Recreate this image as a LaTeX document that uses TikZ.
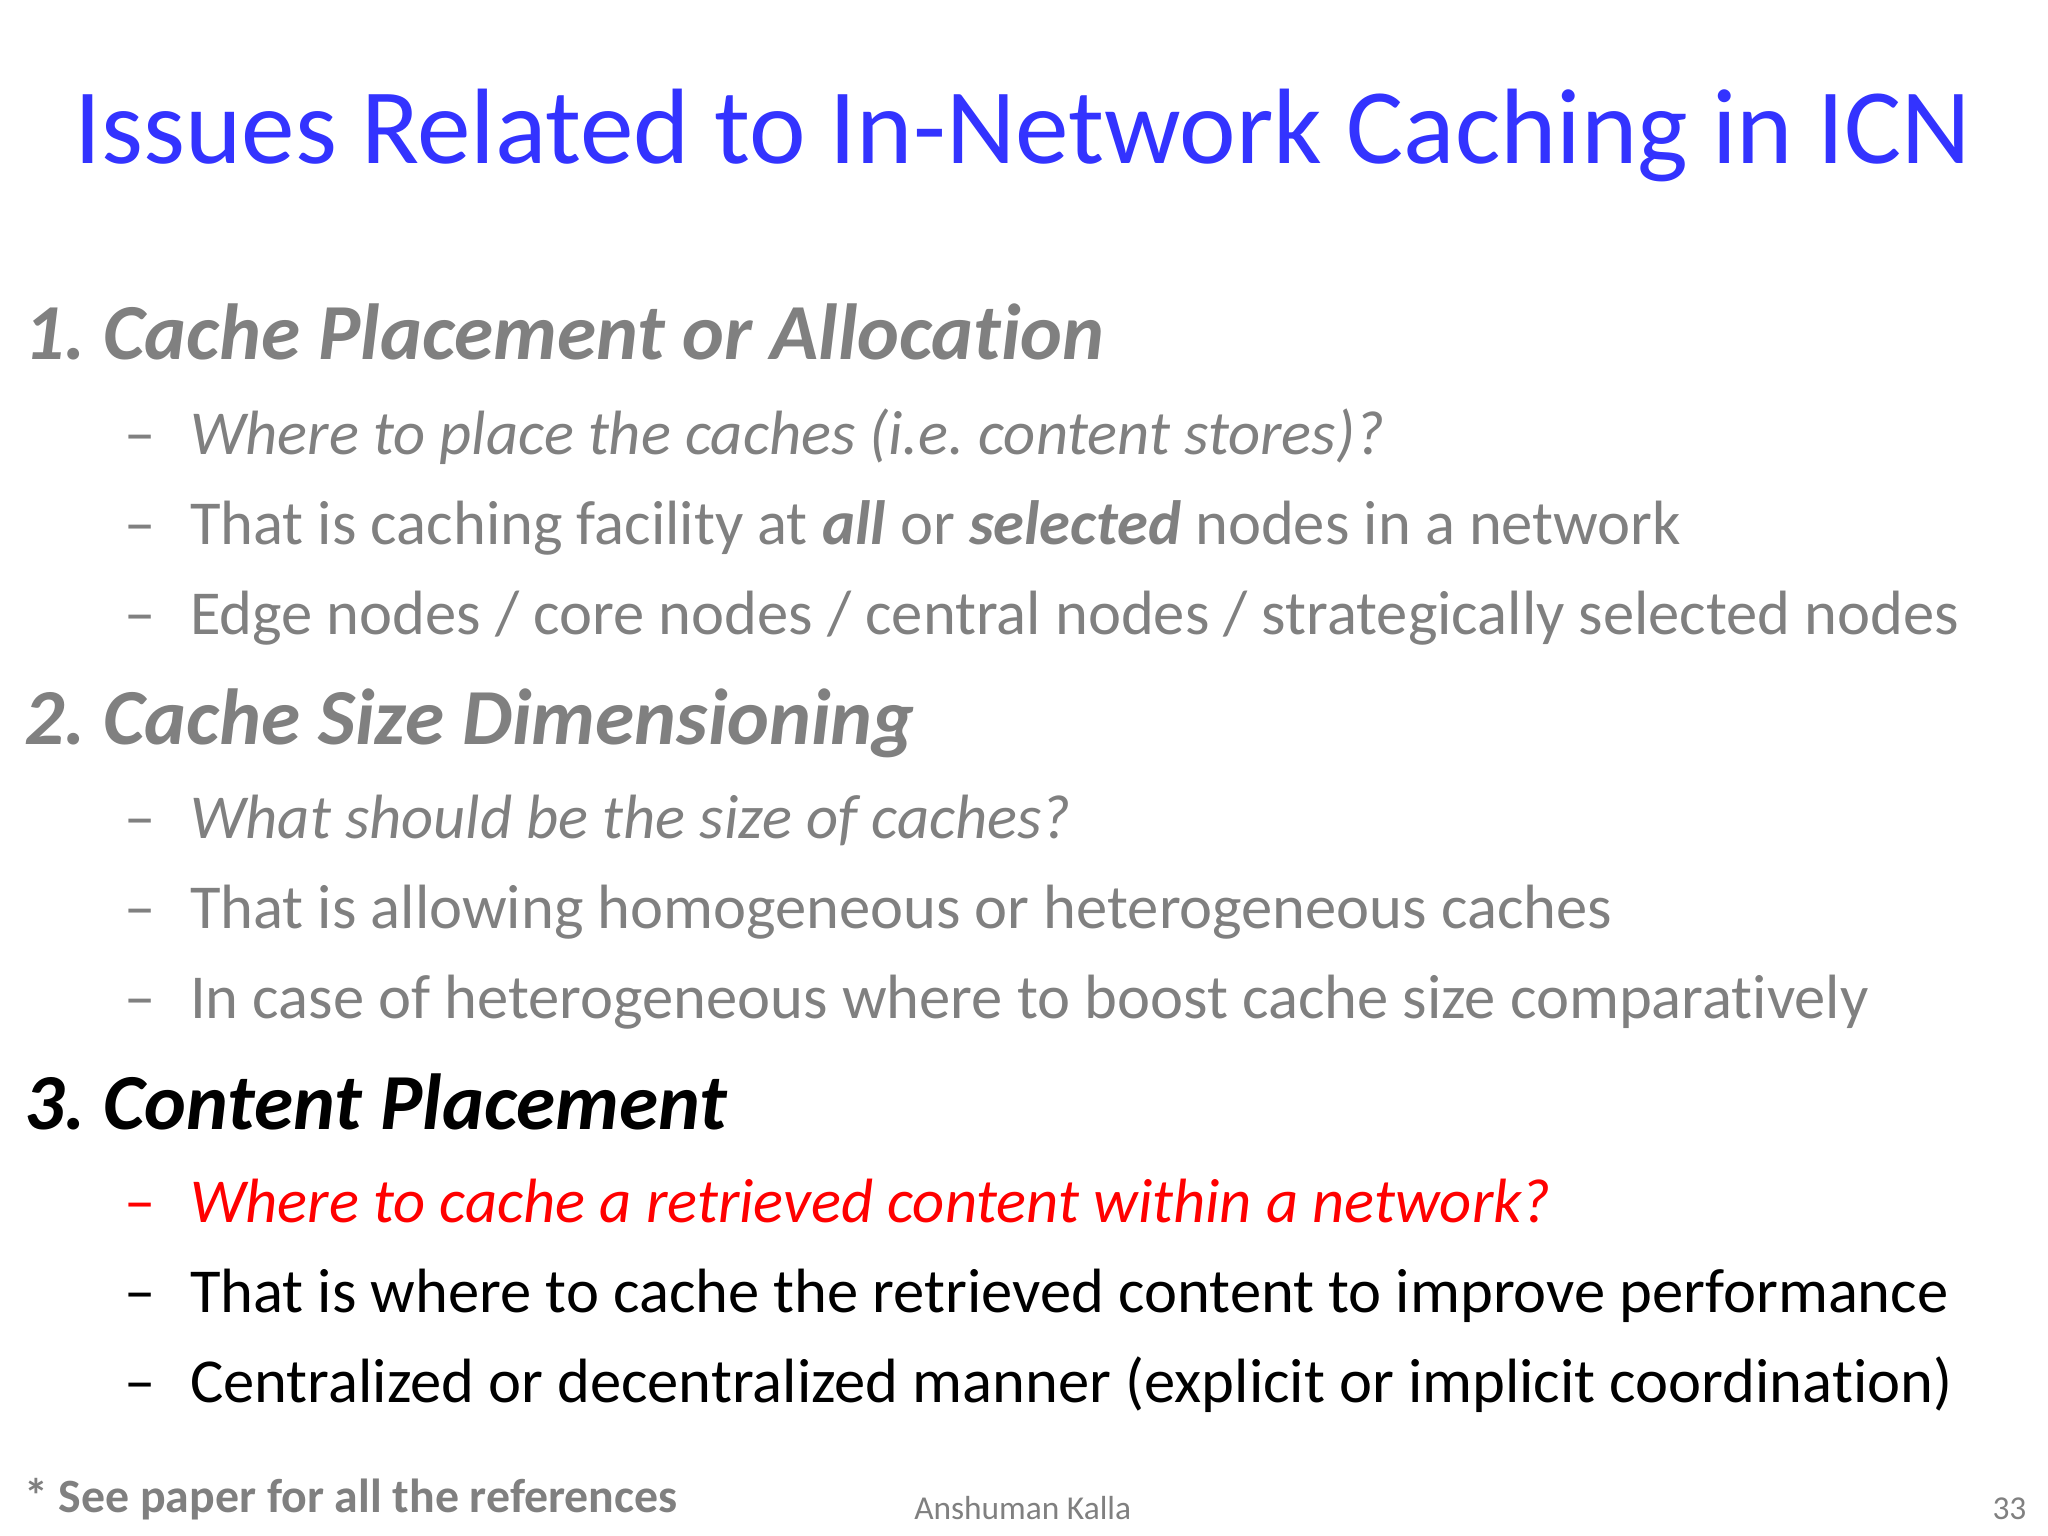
\documentclass[tikz,border=0pt]{standalone}
\usepackage{fontspec}
\setmainfont[Ligatures={NoCommon}]{Carlito}
\frenchspacing
\definecolor{ttl}{RGB}{51,51,255}
\definecolor{gr}{RGB}{128,128,128}
\begin{document}
\begin{tikzpicture}[x=0.01306cm,y=-0.01306cm,
  head/.style={anchor=base west,inner sep=0pt,font=\fontsize{22.6}{27}\selectfont\bfseries\itshape},
  item/.style={anchor=base west,inner sep=0pt,font=\fontsize{17.8}{21}\selectfont},
  dsh/.style={anchor=base west,inner sep=0pt,font=\fontsize{17.8}{21}\selectfont}]
\useasboundingbox[fill=white] (0,0) rectangle (1568,1176);
\node[anchor=base,inner sep=0pt,text=ttl,font=\fontsize{30.5}{36}\selectfont] (t) at (783,125) {Issues Related to In-Network Caching in ICN};
\node[head,text=gr] (h1) at (18,275) {1. Cache Placement or Allocation};
\node[dsh,text=gr] (d1) at (95,348) {–};
\node[item,text=gr,font=\fontsize{17.8}{21}\selectfont\itshape] (i1) at (145,348) {Where to place the caches (i.e. content stores)?};
\node[dsh,text=gr] (d2) at (95,417) {–};
\node[item,text=gr] (i2) at (145,417) {That is caching facility at \textbf{\textit{all}} or \textbf{\textit{selected}} nodes in a network};
\node[dsh,text=gr] (d3) at (95,486) {–};
\node[item,text=gr] (i3) at (145,486) {Edge nodes / core nodes / central nodes / strategically selected nodes};
\node[head,text=gr] (h2) at (18,570) {2. Cache Size Dimensioning};
\node[dsh,text=gr] (d4) at (95,642) {–};
\node[item,text=gr,font=\fontsize{17.8}{21}\selectfont\itshape] (i4) at (145,642) {What should be the size of caches?};
\node[dsh,text=gr] (d5) at (95,711) {–};
\node[item,text=gr] (i5) at (145,711) {That is allowing homogeneous or heterogeneous caches};
\node[dsh,text=gr] (d6) at (95,780) {–};
\node[item,text=gr] (i6) at (145,780) {In case of heterogeneous where to boost cache size comparatively};
\node[head,text=black] (h3) at (18,865) {3. Content Placement};
\node[dsh,text=red] (d7) at (95,936) {–};
\node[item,text=red,font=\fontsize{17.8}{21}\selectfont\itshape] (i7) at (145,936) {Where to cache a retrieved content within a network?};
\node[dsh] (d8) at (95,1005) {–};
\node[item] (i8) at (145,1005) {That is where to cache the retrieved content to improve performance};
\node[dsh] (d9) at (95,1074) {–};
\node[item] (i9) at (145,1074) {Centralized or decentralized manner (explicit or implicit coordination)};
\node[anchor=base west,inner sep=0pt,text=gr,font=\fontsize{13.6}{16}\selectfont\bfseries] (f) at (18,1158) {* See paper for all the references};
\node[anchor=base,inner sep=0pt,text=gr,font=\fontsize{9.5}{11}\selectfont] (a) at (783,1163) {Anshuman Kalla};
\node[anchor=base east,inner sep=0pt,text=gr,font=\fontsize{9.5}{11}\selectfont] (n) at (1552,1163) {33};
\end{tikzpicture}
\end{document}
